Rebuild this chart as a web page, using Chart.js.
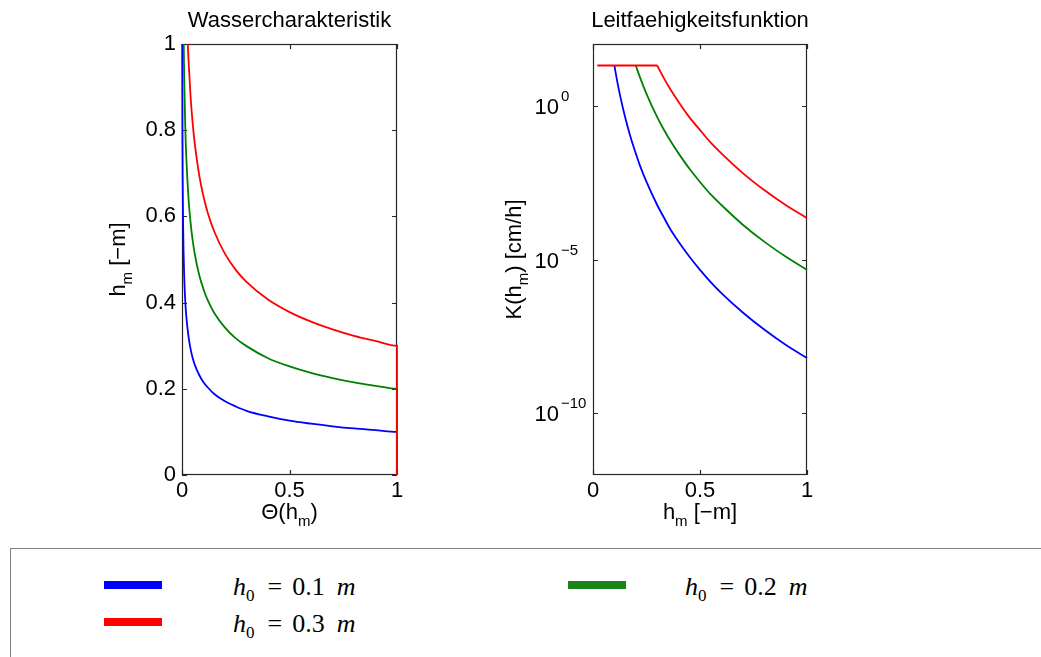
<!DOCTYPE html>
<html>
<head>
<meta charset="utf-8">
<script src="https://cdn.jsdelivr.net/npm/chart.js@4.4.0/dist/chart.umd.min.js"></script>
<style>
  body{margin:0;background:#fff;width:1041px;height:657px;overflow:hidden;position:relative}
  #c1{position:absolute;left:0;top:0}
  #c2{position:absolute;left:470px;top:0}
  #legend{position:absolute;left:10px;top:548px;width:1100px;height:200px;border:1px solid #808080;background:#fff}
  .sw{position:absolute;width:58px;height:8px}
  .lt{position:absolute;font-family:"Liberation Serif","Times New Roman",serif;font-size:26px;line-height:26px;white-space:nowrap;color:#000}
  .lt i{font-style:italic}
  .lt sub{font-size:17px;vertical-align:-6px;line-height:0}
  .lt .eq{margin:0 10px 0 13px}
  .lt .u{margin-left:12px}
</style>
</head>
<body>
<canvas id="c1" width="470" height="545"></canvas>
<canvas id="c2" width="571" height="545"></canvas>
<div id="legend">
  <div class="sw" style="left:93px;top:32px;background:#0000ff"></div>
  <div class="lt" style="left:222px;top:25px"><i>h</i><sub>0</sub><span class="eq">=</span>0.1<i class="u">m</i></div>
  <div class="sw" style="left:557px;top:32px;background:#1a861a"></div>
  <div class="lt" style="left:674px;top:25px"><i>h</i><sub>0</sub><span class="eq">=</span>0.2<i class="u">m</i></div>
  <div class="sw" style="left:93px;top:69px;background:#ff0000"></div>
  <div class="lt" style="left:222px;top:62px"><i>h</i><sub>0</sub><span class="eq">=</span>0.3<i class="u">m</i></div>
</div>
<script>
// Wassercharakteristik: Theta(h) gegen h
const thetaBlue = [1, 1, 0.9, 0.8, 0.7, 0.6, 0.5, 0.4, 0.3, 0.25, 0.2, 0.15, 0.12, 0.1, 0.08, 0.06, 0.05, 0.04, 0.03, 0.02, 0.015, 0.01, 0.007, 0.005, 0.003, 0.002, 0.001];
const hBlue     = [0, 0.1, 0.104, 0.108, 0.113, 0.119, 0.126, 0.136, 0.149, 0.159, 0.171, 0.188, 0.203, 0.215, 0.232, 0.255, 0.271, 0.292, 0.322, 0.368, 0.405, 0.464, 0.523, 0.585, 0.693, 0.794, 1.0];
const thetaGreen = [1, 1, 0.9, 0.8, 0.7, 0.6, 0.5, 0.4, 0.3, 0.25, 0.2, 0.15, 0.12, 0.1, 0.08, 0.06, 0.05, 0.04, 0.03, 0.02, 0.015, 0.01, 0.008];
const hGreen     = [0, 0.2, 0.207, 0.215, 0.225, 0.237, 0.252, 0.271, 0.299, 0.317, 0.342, 0.376, 0.405, 0.431, 0.464, 0.511, 0.543, 0.585, 0.644, 0.737, 0.811, 0.928, 1.0];
const thetaRed = [1, 1, 0.9, 0.8, 0.7, 0.6, 0.5, 0.4, 0.3, 0.25, 0.2, 0.15, 0.12, 0.1, 0.08, 0.06, 0.05, 0.04, 0.03, 0.027];
const hRed     = [0, 0.3, 0.311, 0.323, 0.338, 0.356, 0.378, 0.407, 0.448, 0.476, 0.513, 0.565, 0.608, 0.646, 0.696, 0.766, 0.814, 0.877, 0.966, 1.0];

// Leitfaehigkeitsfunktion: K(h) in cm/h, konstant bis h0, danach fallend
const hMin = 0.02;
const kSat = 20;
const hKBlue  = [0.1, 0.11, 0.12, 0.14, 0.16, 0.18, 0.2, 0.22, 0.25, 0.3, 0.33, 0.36, 0.4, 0.45, 0.5, 0.55, 0.6, 0.7, 0.8, 0.9, 1.0];
const kBlue   = [20, 8.1, 3.5, 0.82, 0.23, 0.075, 0.028, 0.011, 3.3e-3, 5.9e-4, 2.4e-4, 1.0e-4, 3.8e-5, 1.25e-5, 4.6e-6, 1.85e-6, 8.1e-7, 1.9e-7, 5.3e-8, 1.7e-8, 6.3e-9];
const hKGreen = [0.2, 0.22, 0.25, 0.3, 0.33, 0.36, 0.4, 0.45, 0.5, 0.55, 0.6, 0.7, 0.8, 0.9, 1.0];
const kGreen  = [20, 8.1, 2.4, 0.42, 0.17, 0.075, 0.028, 9.0e-3, 3.3e-3, 1.3e-3, 5.9e-4, 1.35e-4, 3.8e-5, 1.25e-5, 4.6e-6];
const hKRed   = [0.3, 0.33, 0.36, 0.4, 0.45, 0.5, 0.55, 0.6, 0.7, 0.8, 0.9, 1.0];
const kRed    = [20, 8.1, 3.5, 1.3, 0.42, 0.16, 0.063, 0.028, 6.4e-3, 1.8e-3, 5.9e-4, 2.2e-4];

const seriesNames = ['h0 = 0.1 m', 'h0 = 0.2 m', 'h0 = 0.3 m'];
const seriesColors = ['#0000ff', '#008000', '#ff0000'];
const xTicks = [0, 0.5, 1];
const logTicks = [1e-10, 1e-5, 1];
const logTickExp = ['\u221210', '\u22125', '0'];

const FONT = '"Liberation Sans", Arial, Helvetica, sans-serif';

function pts(xs, ys){ return xs.map((v,i)=>({x:v, y:ys[i]})) }

function ds(i, data, smooth){
  return {label: seriesNames[i], data: data, borderColor: seriesColors[i], borderWidth: 1.8,
          pointRadius: 0, fill: false, clip: 3,
          tension: 0, cubicInterpolationMode: smooth ? 'monotone' : 'default'};
}

// text with subscript parts, (x,y) = center of the baseline
function drawRich(ctx, parts, x, y, size, rotate){
  ctx.save();
  ctx.translate(x, y);
  if (rotate) ctx.rotate(-Math.PI/2);
  ctx.fillStyle = '#000';
  ctx.textBaseline = 'alphabetic';
  ctx.textAlign = 'left';
  let w = 0;
  parts.forEach(p=>{ ctx.font = (p[1] ? 15 : size)+'px '+FONT; w += ctx.measureText(p[0]).width });
  let cx = -w/2;
  parts.forEach(p=>{
    ctx.font = (p[1] ? 15 : size)+'px '+FONT;
    ctx.fillText(p[0], cx, p[1] ? 7 : 0);
    cx += ctx.measureText(p[0]).width;
  });
  ctx.restore();
}

function makeFrame(cfg){
  return {
    id: 'frame',
    beforeDatasetsDraw(chart){
      const ctx = chart.ctx, a = chart.chartArea, x = chart.scales.x, y = chart.scales.y;
      ctx.save();
      ctx.strokeStyle = '#262626';
      ctx.lineWidth = 1.2;
      ctx.strokeRect(a.left + 0.5, a.top + 0.5, a.right - a.left - 1, a.bottom - a.top - 1);
      ctx.beginPath();
      x.ticks.forEach(t=>{
        const px = Math.round(x.getPixelForValue(t.value)) + 0.5;
        ctx.moveTo(px, a.bottom); ctx.lineTo(px, a.bottom - 5);
        ctx.moveTo(px, a.top); ctx.lineTo(px, a.top + 5);
      });
      y.ticks.forEach(t=>{
        const py = Math.round(y.getPixelForValue(t.value)) + 0.5;
        ctx.moveTo(a.left, py); ctx.lineTo(a.left + 5, py);
        ctx.moveTo(a.right, py); ctx.lineTo(a.right - 5, py);
      });
      ctx.stroke();

      if (cfg.log){
        y.ticks.forEach((t,i)=>{
          const py = y.getPixelForValue(t.value);
          ctx.fillStyle = '#000';
          ctx.textBaseline = 'alphabetic';
          ctx.font = '22px '+FONT;
          ctx.textAlign = 'right';
          ctx.fillText('10', a.left - 34, py + 8);
          ctx.font = '15px '+FONT;
          ctx.textAlign = 'left';
          ctx.fillText(logTickExp[i], a.left - 32, py - 5);
        });
      }
      ctx.restore();
    },
    afterDraw(chart){
      const ctx = chart.ctx, a = chart.chartArea;
      const cx = (a.left + a.right)/2, cy = (a.top + a.bottom)/2;
      ctx.save();
      ctx.fillStyle = '#000';
      ctx.font = '22px '+FONT;
      ctx.textAlign = 'center';
      ctx.textBaseline = 'alphabetic';
      ctx.fillText(cfg.title, cx, 27);
      ctx.restore();
      drawRich(ctx, cfg.xLabel, cx, 519, 22, false);
      drawRich(ctx, cfg.yLabel, cfg.yLabelX, cy, 22, true);
    }
  };
}

const tickFont = {family: FONT, size: 22};
const fmt = v => String(+(+v).toFixed(1));

// erster Datensatz wird zuletzt gezeichnet -> rot oben
new Chart(document.getElementById('c1'), {
  type: 'line',
  data: {
    datasets: [
      ds(2, pts(thetaRed, hRed), true),
      ds(1, pts(thetaGreen, hGreen), true),
      ds(0, pts(thetaBlue, hBlue), true)
    ]
  },
  options: {
    responsive: false,
    animation: false,
    layout: {padding: {top: 44, right: 73, bottom: 0, left: 0}},
    plugins: {legend: {display: false}, tooltip: {enabled: false}},
    scales: {
      x: {type: 'linear', min: 0, max: 1,
          afterBuildTicks: s=>{ s.ticks = xTicks.map(v=>({value: v})) },
          ticks: {font: tickFont, color: '#000', padding: 3, maxRotation: 0, callback: fmt},
          grid: {display: false, drawTicks: false}, border: {display: false},
          afterFit: s=>{ s.height = 70 }},
      y: {type: 'linear', min: 0, max: 1,
          ticks: {stepSize: 0.2, font: tickFont, color: '#000', padding: 6, callback: fmt},
          grid: {display: false, drawTicks: false}, border: {display: false},
          afterFit: s=>{ s.width = 182 }}
    }
  },
  plugins: [makeFrame({
    title: 'Wassercharakteristik',
    xLabel: [['\u0398(h', false], ['m', true], [')', false]],
    yLabel: [['h', false], ['m', true], [' [\u2212m]', false]],
    yLabelX: 125
  })]
});

// das konstante Stueck ist bei allen gleich, das rote liegt oben und verdeckt die anderen
new Chart(document.getElementById('c2'), {
  type: 'line',
  data: {
    datasets: [
      ds(2, pts([hMin, hKRed[0]], [kSat, kSat]), false),
      ds(2, pts(hKRed, kRed), true),
      ds(1, pts(hKGreen, kGreen), true),
      ds(0, pts(hKBlue, kBlue), true)
    ]
  },
  options: {
    responsive: false,
    animation: false,
    layout: {padding: {top: 44, right: 234, bottom: 0, left: 0}},
    plugins: {legend: {display: false}, tooltip: {enabled: false}},
    scales: {
      x: {type: 'linear', min: 0, max: 1,
          afterBuildTicks: s=>{ s.ticks = xTicks.map(v=>({value: v})) },
          ticks: {font: tickFont, color: '#000', padding: 3, maxRotation: 0, callback: fmt},
          grid: {display: false, drawTicks: false}, border: {display: false},
          afterFit: s=>{ s.height = 70 }},
      y: {type: 'logarithmic', min: 1e-12, max: 100,
          afterBuildTicks: s=>{ s.ticks = logTicks.map(v=>({value: v})) },
          ticks: {display: false},
          grid: {display: false, drawTicks: false}, border: {display: false},
          afterFit: s=>{ s.width = 123 }}
    }
  },
  plugins: [makeFrame({
    title: 'Leitfaehigkeitsfunktion',
    xLabel: [['h', false], ['m', true], [' [\u2212m]', false]],
    yLabel: [['K(h', false], ['m', true], [') [cm/h]', false]],
    yLabelX: 51,
    log: true
  })]
});
</script>
</body>
</html>
